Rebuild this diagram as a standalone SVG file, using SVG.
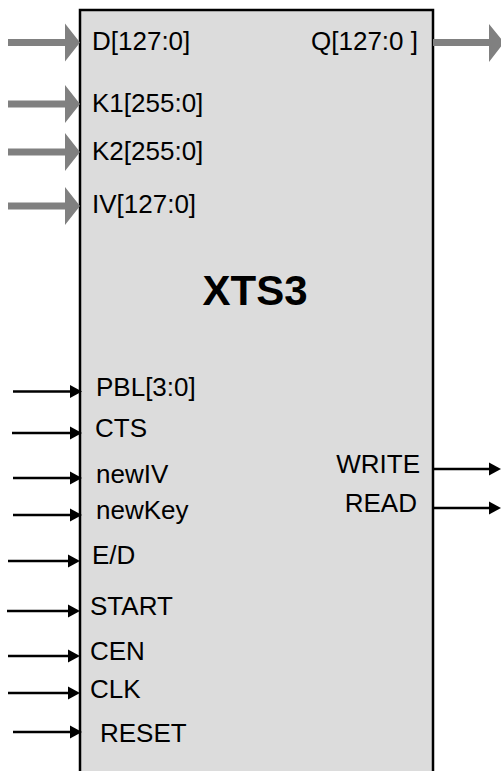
<svg xmlns="http://www.w3.org/2000/svg" width="501" height="771" viewBox="0 0 501 771">
<style>
text{font-family:"Liberation Sans",Arial,sans-serif;font-size:26px;fill:#000}
.bus{fill:#808080;stroke:none}
.sig{stroke:#000;stroke-width:2.5;fill:none}
.hd{fill:#000;stroke:none}
.end{text-anchor:end}
</style>
<defs>
<path id="busL" class="bus" d="M8,-3.5 H65 V-19 L80,0 L65,19 V3.5 H8 Z"/>
<path id="sigHead" class="hd" d="M-12,-6.5 L0,0 L-12,6.5 Z"/>
</defs>
<g id="block">
<rect x="80" y="10" width="353" height="800" fill="#dcdcdc" stroke="#000" stroke-width="2.5"/>
<text x="255" y="305" text-anchor="middle" style="font-size:42px;font-weight:bold">XTS3</text>
</g>
<g id="connectors">
<use href="#busL" y="42.5"/>
<use href="#busL" y="104"/>
<use href="#busL" y="152"/>
<use href="#busL" y="206"/>
<path class="bus" d="M433,39 H489 V24 L504,42.5 L489,62 V46 H433 Z"/>
<line class="sig" x1="13" y1="391.5" x2="72" y2="391.5"/><use href="#sigHead" x="82" y="391.5"/>
<line class="sig" x1="12" y1="433" x2="72" y2="433"/><use href="#sigHead" x="82" y="433"/>
<line class="sig" x1="13" y1="478" x2="72" y2="478"/><use href="#sigHead" x="82" y="478"/>
<line class="sig" x1="13" y1="515" x2="72" y2="515"/><use href="#sigHead" x="82" y="515"/>
<line class="sig" x1="8" y1="561" x2="70" y2="561"/><use href="#sigHead" x="80" y="561"/>
<line class="sig" x1="7" y1="611" x2="70" y2="611"/><use href="#sigHead" x="80" y="611"/>
<line class="sig" x1="8" y1="656" x2="70" y2="656"/><use href="#sigHead" x="80" y="656"/>
<line class="sig" x1="8" y1="693" x2="70" y2="693"/><use href="#sigHead" x="80" y="693"/>
<line class="sig" x1="13" y1="732" x2="72" y2="732"/><use href="#sigHead" x="82" y="732"/>
<line class="sig" x1="433" y1="469" x2="490" y2="469"/><use href="#sigHead" x="501" y="469"/>
<line class="sig" x1="433" y1="508" x2="490" y2="508"/><use href="#sigHead" x="501" y="508"/>
</g>
<g id="ports">
<text x="92" y="50">D[127:0]</text>
<text x="92" y="112">K1[255:0]</text>
<text x="92" y="160">K2[255:0]</text>
<text x="92" y="213">IV[127:0]</text>
<text class="end" x="418" y="50">Q[127:0 ]</text>
<text x="96" y="396">PBL[3:0]</text>
<text x="95" y="437">CTS</text>
<text x="96" y="483">newIV</text>
<text x="96" y="519">newKey</text>
<text x="92" y="564">E/D</text>
<text x="90" y="615">START</text>
<text x="90" y="660">CEN</text>
<text x="90" y="698">CLK</text>
<text x="100" y="742">RESET</text>
<text class="end" x="420" y="473">WRITE</text>
<text class="end" x="417" y="512">READ</text>
</g>
</svg>
